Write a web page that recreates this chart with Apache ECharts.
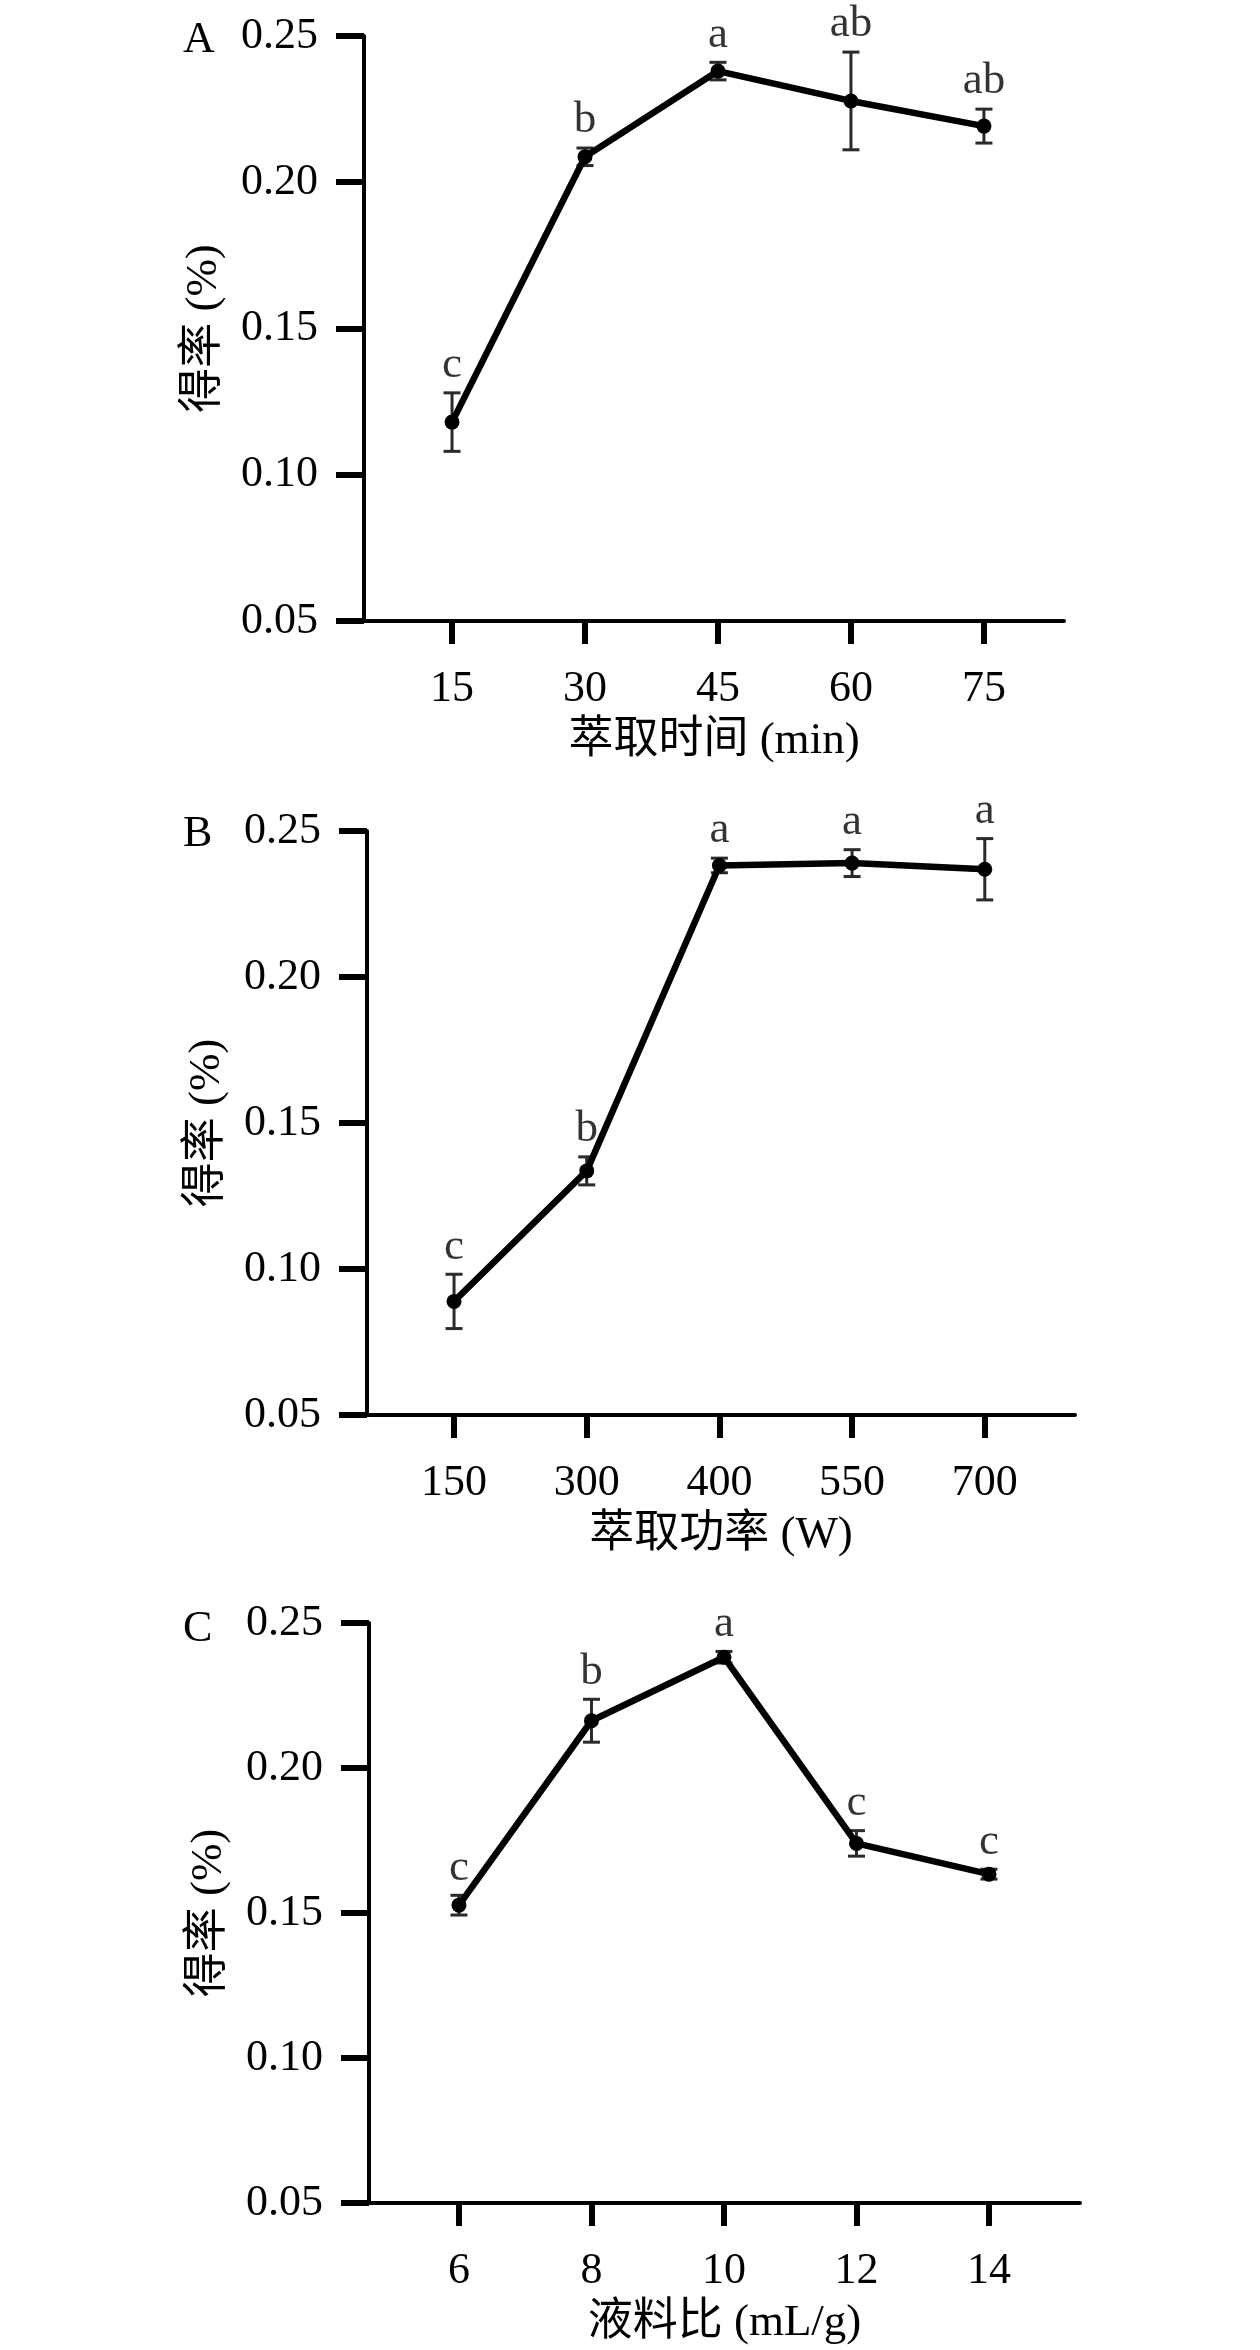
<!DOCTYPE html>
<html>
<head>
<meta charset="utf-8">
<script src="https://cdn.jsdelivr.net/npm/echarts@6/dist/echarts.min.js"></script>
<style>
html,body{margin:0;padding:0;background:#fff;}
#chart{width:1260px;height:2350px;}
</style>
</head>
<body>
<div id="chart"></div>
<script>
// ---- Data ----
const timeCats = ['15', '30', '45', '60', '75'];
const timeMean = [0.118, 0.2087, 0.238, 0.2278, 0.2192];
const timeErr = [0.010, 0.003, 0.003, 0.0167, 0.0058];
const timeLetters = ['c', 'b', 'a', 'ab', 'ab'];

const powerCats = ['150', '300', '400', '550', '700'];
const powerMean = [0.0889, 0.1336, 0.2382, 0.239, 0.2369];
const powerErr = [0.0093, 0.0048, 0.0025, 0.0046, 0.0105];
const powerLetters = ['c', 'b', 'a', 'a', 'a'];

const ratioCats = ['6', '8', '10', '12', '14'];
const ratioMean = [0.1527, 0.2163, 0.2382, 0.174, 0.1634];
const ratioErr = [0.0034, 0.0074, 0.002, 0.0044, 0.0017];
const ratioLetters = ['c', 'b', 'a', 'c', 'c'];

const panelLetters = ['A', 'B', 'C'];
const xTitles = ['萃取时间 (min)', '萃取功率 (W)', '液料比 (mL/g)'];
const yTitle = '得率 (%)';

// ---- Layout ----
const FONT = '"Liberation Serif", "Times New Roman", "Noto Sans CJK SC", serif';
const panels = [
  {cats: timeCats, mean: timeMean, err: timeErr, letters: timeLetters,
   grid: {left: 364, top: 36, width: 700, height: 585}, xmin: -0.662, xmax: 4.602, titleTop: 18},
  {cats: powerCats, mean: powerMean, err: powerErr, letters: powerLetters,
   grid: {left: 367, top: 831, width: 708, height: 584}, xmin: -0.656, xmax: 4.68, titleTop: 812},
  {cats: ratioCats, mean: ratioMean, err: ratioErr, letters: ratioLetters,
   grid: {left: 369, top: 1623, width: 711, height: 580}, xmin: -0.679, xmax: 4.687, titleTop: 1607}
];

const option = {
  backgroundColor: '#fff',
  animation: false,
  title: [], grid: [], xAxis: [], yAxis: [], series: []
};

panels.forEach((p, k) => {
  option.title.push({
    text: panelLetters[k], left: 183, top: p.titleTop, padding: 0,
    textStyle: {fontFamily: FONT, fontSize: 44, fontWeight: 'normal', color: '#000'}
  });
  option.grid.push(Object.assign({containLabel: false}, p.grid));
  const idx = [0, 1, 2, 3, 4];
  option.xAxis.push({
    type: 'value', gridIndex: k, min: p.xmin, max: p.xmax,
    name: xTitles[k], nameLocation: 'middle', nameGap: 98,
    nameTextStyle: {fontFamily: FONT, fontSize: 45, color: '#000'},
    axisLine: {show: true, onZero: false, lineStyle: {color: '#000', width: 4}},
    axisTick: {show: true, customValues: idx, length: 23, lineStyle: {color: '#000', width: 6}},
    axisLabel: {show: true, customValues: idx, margin: 46, fontFamily: FONT, fontSize: 44, color: '#000',
      formatter: v => p.cats[Math.round(v)]},
    splitLine: {show: false}
  });
  option.yAxis.push({
    type: 'value', gridIndex: k, min: 0.05, max: 0.25, interval: 0.05,
    name: yTitle, nameLocation: 'middle', nameGap: 137, nameRotate: 90,
    nameTextStyle: {fontFamily: FONT, fontSize: 45, color: '#000'},
    axisLine: {show: true, onZero: false, lineStyle: {color: '#000', width: 4}},
    axisTick: {show: true, length: 28, lineStyle: {color: '#000', width: 6}},
    axisLabel: {margin: 46, fontFamily: FONT, fontSize: 44, color: '#000',
      formatter: v => v.toFixed(2)},
    splitLine: {show: false}
  });
  // error bars
  option.series.push({
    type: 'custom', xAxisIndex: k, yAxisIndex: k, z: 2,
    data: p.mean.map((m, i) => [i, m - p.err[i], m + p.err[i]]),
    renderItem: (params, api) => {
      const x = api.value(0);
      const lo = api.coord([x, api.value(1)]);
      const hi = api.coord([x, api.value(2)]);
      const w = 8.5;
      const st = {stroke: '#2a2a2a', lineWidth: 3};
      return {type: 'group', children: [
        {type: 'line', shape: {x1: lo[0], y1: lo[1], x2: hi[0], y2: hi[1]}, style: st},
        {type: 'line', shape: {x1: lo[0] - w, y1: lo[1], x2: lo[0] + w, y2: lo[1]}, style: st},
        {type: 'line', shape: {x1: hi[0] - w, y1: hi[1], x2: hi[0] + w, y2: hi[1]}, style: st}
      ]};
    }
  });
  // mean line
  option.series.push({
    type: 'line', xAxisIndex: k, yAxisIndex: k, z: 3,
    data: p.mean.map((m, i) => [i, m]),
    symbol: 'circle', symbolSize: 15,
    lineStyle: {color: '#000', width: 6.5},
    itemStyle: {color: '#000'}
  });
  // significance letters
  option.series.push({
    type: 'scatter', xAxisIndex: k, yAxisIndex: k, z: 4,
    symbolSize: 0,
    data: p.mean.map((m, i) => ({value: [i, m + p.err[i]], name: p.letters[i]})),
    label: {show: true, position: 'top', distance: 5, formatter: d => d.name,
      fontFamily: FONT, fontSize: 45, color: '#000'}
  });
});

const chart = echarts.init(document.getElementById('chart'), null, {renderer: 'canvas'});
chart.setOption(option);
</script>
</body>
</html>
